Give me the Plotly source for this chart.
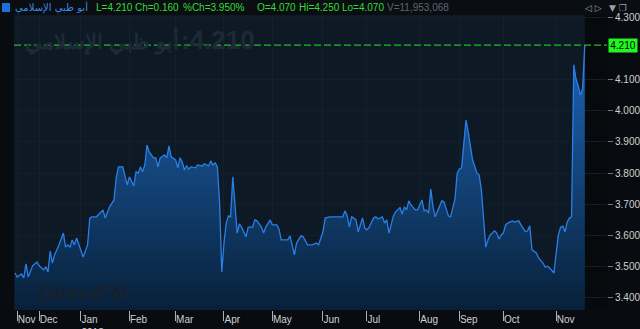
import plotly.graph_objects as go

# ---------------- data ----------------
name_ar = "أبو ظبي الإسلامي"
last_price = 4.210
change = 0.160
pct_change = 3.950
open_price = 4.070
high_price = 4.250
low_price = 4.070
volume = 11953068

# trading-session index and closing price
day = [0, 1, 3, 4, 5, 6, 8, 10, 11, 13, 14, 15, 16, 17, 18, 20, 22, 23, 24, 25,
       26, 27, 28, 30, 31, 33, 34, 35, 37, 40, 41, 43, 45, 46, 47, 49, 50, 51, 52, 54,
       55, 56, 57, 58, 59, 60, 61, 63, 64, 65, 66, 68, 69, 70, 71, 73, 74, 75, 76, 77,
       78, 79, 80, 82, 83, 85, 86, 88, 89, 90, 91, 92, 93, 94, 95, 96, 97, 98, 99, 100,
       101, 102, 103, 105, 106, 108, 109, 110, 112, 113, 114, 116, 117, 119, 120, 121, 123, 124, 125, 127,
       128, 130, 131, 132, 133, 135, 137, 138, 140, 141, 143, 146, 149, 150, 151, 152, 153, 154, 155, 156,
       158, 159, 160, 161, 163, 164, 165, 167, 168, 169, 170, 172, 173, 175, 176, 177, 178, 179, 180, 182,
       183, 185, 186, 187, 188, 189, 190, 191, 193, 194, 195, 196, 197, 198, 200, 201, 202, 203, 204, 205,
       206, 208, 210, 211, 212, 213, 214, 215, 216, 218, 219, 220, 221, 222, 223, 224, 226, 227, 229, 230,
       232, 233, 234, 235, 237, 238, 240, 241, 242, 243, 245, 246, 247, 248, 249, 250, 251, 252, 253, 254,
       255, 256, 257, 258, 259]
price = [3.480, 3.467, 3.477, 3.464, 3.509, 3.467, 3.503, 3.515, 3.503, 3.490, 3.500, 3.483, 3.550, 3.512, 3.538, 3.570, 3.608, 3.563, 3.570, 3.563,
         3.586, 3.570, 3.592, 3.547, 3.531, 3.570, 3.656, 3.660, 3.660, 3.682, 3.656, 3.692, 3.714, 3.785, 3.820, 3.820, 3.788, 3.762, 3.788, 3.759,
         3.804, 3.800, 3.820, 3.804, 3.826, 3.890, 3.868, 3.849, 3.849, 3.820, 3.849, 3.858, 3.849, 3.887, 3.852, 3.842, 3.817, 3.849, 3.836, 3.810,
         3.823, 3.813, 3.820, 3.817, 3.826, 3.823, 3.830, 3.823, 3.839, 3.826, 3.833, 3.820, 3.705, 3.483, 3.576, 3.640, 3.663, 3.660, 3.788, 3.692,
         3.608, 3.637, 3.627, 3.596, 3.627, 3.627, 3.650, 3.647, 3.627, 3.608, 3.627, 3.650, 3.634, 3.634, 3.621, 3.586, 3.586, 3.586, 3.599, 3.538,
         3.576, 3.599, 3.596, 3.585, 3.570, 3.570, 3.576, 3.570, 3.612, 3.656, 3.660, 3.660, 3.660, 3.679, 3.663, 3.627, 3.660, 3.656, 3.650, 3.612,
         3.656, 3.624, 3.618, 3.627, 3.656, 3.660, 3.653, 3.660, 3.640, 3.650, 3.608, 3.663, 3.676, 3.689, 3.669, 3.692, 3.682, 3.711, 3.698, 3.682,
         3.682, 3.714, 3.679, 3.682, 3.672, 3.749, 3.692, 3.660, 3.698, 3.711, 3.708, 3.682, 3.663, 3.660, 3.717, 3.800, 3.813, 3.817, 3.906, 3.970,
         3.932, 3.842, 3.800, 3.794, 3.746, 3.660, 3.563, 3.586, 3.602, 3.615, 3.608, 3.589, 3.602, 3.608, 3.634, 3.640, 3.647, 3.643, 3.647, 3.634,
         3.612, 3.615, 3.631, 3.554, 3.544, 3.528, 3.512, 3.499, 3.502, 3.496, 3.480, 3.544, 3.602, 3.627, 3.630, 3.612, 3.643, 3.656, 3.660, 4.147,
         4.102, 4.080, 4.050, 4.070, 4.210]

month_ticks = [1, 11, 30, 52, 73, 95, 117, 140, 160, 184, 202, 222, 246]
month_labels = ["Nov", "Dec", "Jan<br>2018", "Feb", "Mar", "Apr", "May",
                "Jun", "Jul", "Aug", "Sep", "Oct", "Nov"]
price_ticks = [3.4, 3.5, 3.6, 3.7, 3.8, 3.9, 4.0, 4.1, 4.3]

# ---------------- layout helpers ----------------
W, H = 640, 329
ML, MR, MT, MB = 14, 33, 15, 19
PW, PH = W - ML - MR, H - MT - MB


def px(xp):
    return (xp - ML) / PW


def py(yp):
    return (H - MB - yp) / PH


x_range = [-0.45, 269.1]
y_range = [3.3615, 4.3064]

fig = go.Figure()
fig.add_trace(go.Scatter(
    x=day, y=price, mode="lines",
    line=dict(color="#2a7fe6", width=1.3),
    fill="tozeroy",
    fillgradient=dict(type="vertical", start=3.36, stop=4.30,
                      colorscale=[[0, "#082039"], [0.5, "#14477f"], [1, "#1f68c8"]]),
    hoverinfo="skip", showlegend=False,
))

shapes = [
    dict(type="rect", xref="x", yref="paper", x0=x_range[0], x1=day[-1], y0=0, y1=1,
         fillcolor="#0d1925", line_width=0, layer="below"),
    dict(type="rect", xref="paper", yref="paper", x0=px(0), x1=px(W), y0=1, y1=py(0),
         fillcolor="#0a0e12", line_width=0, layer="below"),
    dict(type="line", xref="paper", yref="y", x0=0, x1=1, y0=last_price, y1=last_price,
         line=dict(color="#26e626", width=1, dash="7px,3px"), layer="above"),
    dict(type="rect", xref="paper", yref="paper", x0=px(2), x1=px(10), y0=py(12), y1=py(3),
         fillcolor="#1f6fd8", line_width=0),
]

info_font = dict(family="Liberation Sans", size=10, color="#34dc34")
info_parts = [
    (94, f"L={last_price:.3f}"),
    (133, f"Ch={change:.3f}"),
    (181, f"%Ch={pct_change:.3f}%"),
    (255, f"O={open_price:.3f}"),
    (297, f"Hi={high_price:.3f}"),
    (340, f"Lo={low_price:.3f}"),
]

wm_color = "#1e2a36"
ann = [
    dict(text=name_ar, x=px(13), y=py(7.5), xanchor="left", yanchor="middle",
         font=dict(family="DejaVu Sans", size=10, color="#3a8ae6")),
    dict(text=f"V={volume:,}", x=px(385), y=py(7.5), xanchor="left", yanchor="middle",
         font=dict(family="Liberation Sans", size=10, color="#5c6670")),
    dict(text="◁ ▷", x=px(583), y=py(7.5), xanchor="left", yanchor="middle",
         font=dict(family="DejaVu Sans", size=9, color="#9aa0a6")),
    dict(text="▼ ❐", x=px(607), y=py(7.5), xanchor="left", yanchor="middle",
         font=dict(family="DejaVu Sans", size=9, color="#9aa0a6")),
    # watermark: name and last price
    dict(text=name_ar, x=px(181), y=py(41), xanchor="right", yanchor="middle",
         font=dict(family="Liberation Sans", size=21, color=wm_color, weight="bold")),
    dict(text=f":{last_price:.3f}", x=px(179), y=py(40), xanchor="left", yanchor="middle",
         font=dict(family="Liberation Sans", size=26, color=wm_color, weight="bold")),
    dict(text="<b><i>DirectFN</i></b>", x=px(37), y=py(292), xanchor="left", yanchor="middle",
         font=dict(family="Liberation Sans", size=21, color="#16212b")),
    dict(text=f"{last_price:.3f}", xref="paper", yref="y", x=px(608), y=last_price,
         xanchor="left", yanchor="middle", bgcolor="#22f522",
         width=26, height=11, borderpad=1,
         font=dict(family="Liberation Sans", size=10, color="#000000")),
]
for xp, t in info_parts:
    ann.append(dict(text=t, x=px(xp), y=py(7.5), xanchor="left", yanchor="middle", font=info_font))
for a in ann:
    a.setdefault("xref", "paper")
    a.setdefault("yref", "paper")
    a["showarrow"] = False

fig.update_layout(
    width=W, height=H,
    margin=dict(l=ML, r=MR, t=MT, b=MB, pad=0, autoexpand=False),
    paper_bgcolor="#080c10",
    plot_bgcolor="#070a0d",
    shapes=shapes,
    annotations=ann,
    showlegend=False,
    xaxis=dict(range=x_range, tickvals=month_ticks, ticktext=month_labels,
               ticks="outside", ticklen=10, tickcolor="#b0b0b0", tickwidth=1,
               ticklabelposition="outside right", tickangle=0, automargin=False,
               showgrid=True, gridcolor="#131f2a", gridwidth=1, zeroline=False,
               showline=False, fixedrange=True,
               tickfont=dict(family="Liberation Sans", size=10, color="#d0d0d0")),
    yaxis=dict(range=y_range, side="right", tickvals=price_ticks, tickformat=".3f",
               ticks="outside", ticklen=5, tickcolor="#777777", automargin=False,
               showgrid=True, gridcolor="#131f2a", gridwidth=1, zeroline=False,
               showline=False, fixedrange=True,
               tickfont=dict(family="Liberation Sans", size=10, color="#d0d0d0")),
)

fig.write_html("out.html", config={"displayModeBar": False})
